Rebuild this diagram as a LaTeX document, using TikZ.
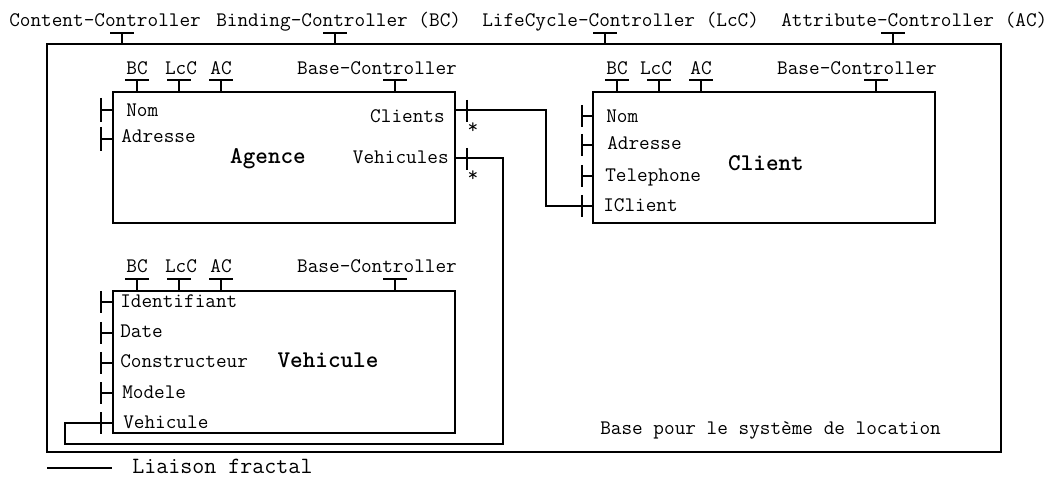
\documentclass[tikz,border=0pt]{standalone}
\usepackage{fontspec}
\begin{document}
\begin{tikzpicture}[x=0.75pt,y=-0.75pt,
  box/.style={draw, line width=1.1pt, anchor=north west, inner sep=0, outer sep=0},
  bar/.style={line width=2pt},
  wire/.style={line width=1.1pt},
  txt/.style={inner sep=0, font=\ttfamily\fontsize{15.5}{18}\selectfont},
  ttl/.style={inner sep=0, font=\ttfamily\bfseries\fontsize{18}{21}\selectfont},
  leg/.style={inner sep=0, font=\ttfamily\fontsize{17.5}{20}\selectfont}]
\useasboundingbox (0,0) rectangle (1057,477);

% outer component
\node[box, minimum width=715.5pt, minimum height=306pt] (base) at (47,44) {};
\node[txt, anchor=base west] (tCC) at (9,27) {Content-Controller};
\node[txt, anchor=base west] (tBC) at (216,27) {Binding-Controller (BC)};
\node[txt, anchor=base west] (tLC) at (482,27) {LifeCycle-Controller (LcC)};
\node[txt, anchor=base west] (tAC) at (781,27) {Attribute-Controller (AC)};
\foreach \x in {122,335,605,893} {
  \draw[bar] (\x-12,33) -- (\x+12,33);
  \draw[wire] (\x,33) -- (\x,44);
}
\node[txt, anchor=base west] (tBase) at (600,434) {Base pour le système de location};

% Agence
\node[box, minimum width=256.5pt, minimum height=98.25pt] (agence) at (113,92) {};
\node[ttl, anchor=base] (agT) at (268,164) {Agence};
\node[txt, anchor=base west] (agN) at (126,117) {Nom};
\node[txt, anchor=base west] (agA) at (121,143) {Adresse};
\node[txt, anchor=base east] (agC) at (445,123) {Clients};
\node[txt, anchor=base east] (agV) at (449,164) {Vehicules};
\node[txt, anchor=base] (agBC) at (137,75) {BC};
\node[txt, anchor=base] (agLC) at (181,75) {LcC};
\node[txt, anchor=base] (agAC) at (221,75) {AC};
\node[txt, anchor=base] (agBase) at (377,75) {Base-Controller};
\foreach \x in {137,179,221,395} {
  \draw[bar] (\x-12,80) -- (\x+12,80);
  \draw[wire] (\x,80) -- (\x,92);
}
\foreach \y in {110,139} {
  \draw[wire] (101,\y) -- (113,\y);
  \draw[bar] (101,\y-12) -- (101,\y+12);
}
\foreach \y in {110,158} {
  \draw[wire] (455,\y) -- (467,\y);
  \draw[bar] (467,\y-10) -- (467,\y+12);
}
\coordinate (agCl) at (467,110);
\coordinate (agVe) at (467,158);
\node[txt, anchor=base] (s1) at (473,134) {*};
\node[txt, anchor=base] (s2) at (473,182) {*};

% Client
\node[box, minimum width=256.5pt, minimum height=98.25pt] (client) at (593,92) {};
\node[ttl, anchor=base] (clT) at (766,171) {Client};
\node[txt, anchor=base west] (clN) at (606,123) {Nom};
\node[txt, anchor=base west] (clA) at (607,150) {Adresse};
\node[txt, anchor=base west] (clTe) at (605,182) {Telephone};
\node[txt, anchor=base west] (clI) at (603,212) {IClient};
\node[txt, anchor=base] (clBC) at (617,75) {BC};
\node[txt, anchor=base] (clLC) at (656,75) {LcC};
\node[txt, anchor=base] (clAC) at (701,75) {AC};
\node[txt, anchor=base] (clBase) at (857,75) {Base-Controller};
\foreach \x in {617,659,701,876} {
  \draw[bar] (\x-12,80) -- (\x+12,80);
  \draw[wire] (\x,80) -- (\x,92);
}
\foreach \y in {116,145,176,206} {
  \draw[wire] (582,\y) -- (593,\y);
  \draw[bar] (582,\y-11) -- (582,\y+11);
}
\coordinate (clIC) at (582,206);

% Vehicule
\node[box, minimum width=256.5pt, minimum height=106.5pt] (vehicule) at (113,291) {};
\node[ttl, anchor=base] (veT) at (328,368) {Vehicule};
\node[txt, anchor=base west] (veI) at (120,308) {Identifiant};
\node[txt, anchor=base west] (veD) at (120,338) {Date};
\node[txt, anchor=base west] (veC) at (120,368) {Constructeur};
\node[txt, anchor=base west] (veM) at (122,398) {Modele};
\node[txt, anchor=base west] (veV) at (123,428) {Vehicule};
\node[txt, anchor=base] (veBC) at (137,273) {BC};
\node[txt, anchor=base] (veLC) at (181,273) {LcC};
\node[txt, anchor=base] (veAC) at (221,273) {AC};
\node[txt, anchor=base] (veBase) at (377,273) {Base-Controller};
\foreach \x in {137,179,221,395} {
  \draw[bar] (\x-12,279) -- (\x+12,279);
  \draw[wire] (\x,279) -- (\x,291);
}
\foreach \y in {302,333,363,393,423} {
  \draw[wire] (101,\y) -- (113,\y);
  \draw[bar] (101,\y-11) -- (101,\y+11);
}
\coordinate (veVe) at (101,423);

% connectors
\draw[wire] (agCl) -- (546,110) |- (clIC);
\draw[wire] (agVe) -| (503,444) -| (65,423) -- (veVe);

% legend
\coordinate (l1) at (47,468);
\coordinate (l2) at (112,468);
\draw[wire] (l1) -- (l2);
\node[leg, anchor=base west] (legT) at (132,473) {Liaison fractal};
\end{tikzpicture}
\end{document}
